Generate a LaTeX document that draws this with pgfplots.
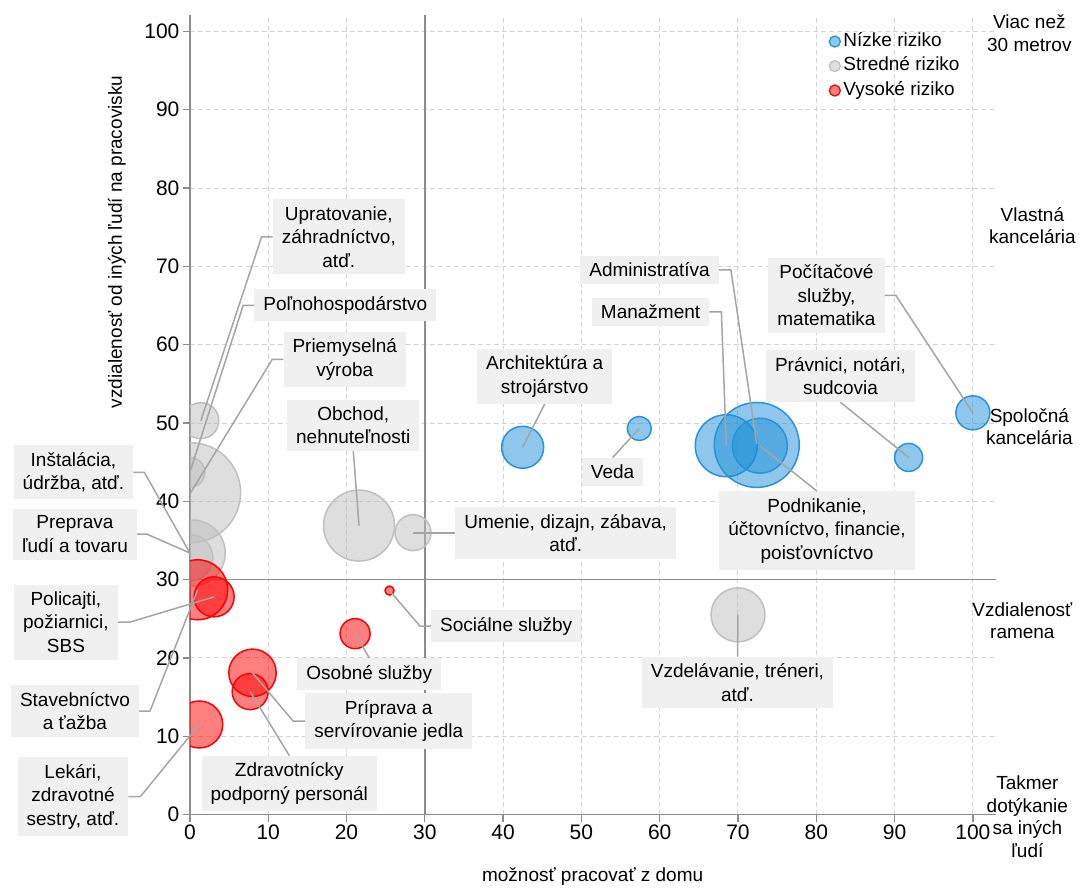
\documentclass[border=0pt]{standalone}
\usepackage{fontspec}
\setmainfont{Liberation Sans}
\usepackage{pgfplots}
\usepackage{pgfplotstable}
\pgfplotsset{compat=1.18}
\definecolor{bluebase}{RGB}{30,144,215}
\definecolor{bluedraw}{RGB}{38,147,218}
\definecolor{graybase}{RGB}{190,190,190}
\definecolor{graydraw}{RGB}{192,192,192}
\definecolor{redbase}{RGB}{255,0,0}
\definecolor{axisgray}{RGB}{140,140,140}
\definecolor{gridgray}{RGB}{212,212,212}
\definecolor{leadgray}{RGB}{165,165,165}
\definecolor{boxgray}{RGB}{240,240,240}

\pgfplotstableread{
x y r
42.5 46.9 21
57.4 49.3 12
68.5 47.1 31
72.4 47.2 42.5
72.8 47.1 27.5
91.8 45.6 14
100 51.3 17
}\lowrisk

\pgfplotstableread{
x y r
1.4 50.3 18
0.0 43.7 15
0.1 41.1 50
0.3 33.4 33
0.0 32.8 23
21.6 36.9 35.5
28.5 36.0 18
70.0 25.5 27
}\midrisk

\pgfplotstableread{
x y r
1.0 28.7 30
3.1 27.8 20
1.2 11.5 23.5
8.0 18.1 23.7
7.7 15.7 18
21.1 23.1 15
25.5 28.6 4.5
}\highrisk

\tikzset{
  lbl/.style={fill=boxgray, align=center, inner xsep=9pt, inner ysep=7pt,
    font=\fontsize{19}{23.5}\selectfont, text=black},
  leader/.style={draw=leadgray, line width=1.5pt},
  rl/.style={align=center, font=\fontsize{19}{22.5}\selectfont, text=black},
}

\begin{document}
\begin{tikzpicture}
\begin{axis}[
  scale only axis, width=807pt, height=800pt,
  xmin=0, xmax=103, ymin=0, ymax=102.1,
  axis lines=left, axis line style={-, draw=axisgray, line width=1.5pt},
  xtick={0,10,...,100}, ytick={0,10,...,100},
  tick align=outside, major tick length=7pt,
  tick style={draw=axisgray, line width=1.3pt},
  grid=major,
  major grid style={draw=gridgray, dash pattern=on 5pt off 3pt, line width=1pt},
  tick label style={font=\fontsize{21}{25}\selectfont, text=black},
  /pgf/number format/assume math mode=true,
  clip mode=individual, clip marker paths=true,
  legend cell align=left,
  legend style={at={(axis cs:81.56,100.3)}, anchor=north west, draw=none, fill=none,
    inner sep=0pt, row sep=0pt,
    nodes={inner sep=2.5pt, text height=14.5pt, text depth=5pt},
    font=\fontsize{19}{23}\selectfont},
]
% bounding box
\path (axis cs:-24.25,-9.06) rectangle (axis cs:113.46,104.02);

\draw[axisgray, line width=1.5pt] (axis cs:30,0) -- (axis cs:30,102.1);
\draw[axisgray, line width=1.5pt] (axis cs:0,30) -- (axis cs:103,30);

\addplot[scatter, only marks, mark=*, forget plot,
  scatter/use mapped color={draw=bluedraw, fill=bluebase, fill opacity=0.5, line width=1.5pt},
  visualization depends on={\thisrow{r}\as\rr},
  scatter/@pre marker code/.append style={/tikz/mark size=\rr}]
  table[x=x,y=y]{\lowrisk};
\addplot[scatter, only marks, mark=*, forget plot,
  scatter/use mapped color={draw=graydraw, fill=graybase, fill opacity=0.5, line width=1.5pt},
  visualization depends on={\thisrow{r}\as\rr},
  scatter/@pre marker code/.append style={/tikz/mark size=\rr}]
  table[x=x,y=y]{\midrisk};
\addplot[scatter, only marks, mark=*, forget plot,
  scatter/use mapped color={draw=redbase, fill=redbase, fill opacity=0.5, line width=1.5pt},
  visualization depends on={\thisrow{r}\as\rr},
  scatter/@pre marker code/.append style={/tikz/mark size=\rr}]
  table[x=x,y=y]{\highrisk};

\addlegendimage{legend image code/.code={\draw[draw=bluedraw, fill=bluebase, fill opacity=0.5, line width=1.3pt] (6pt,0pt) circle (5.5pt);}}
\addlegendentry{Nízke riziko}
\addlegendimage{legend image code/.code={\draw[draw=graydraw, fill=graybase, fill opacity=0.5, line width=1.3pt] (6pt,0pt) circle (5.5pt);}}
\addlegendentry{Stredné riziko}
\addlegendimage{legend image code/.code={\draw[draw=redbase, fill=redbase, fill opacity=0.5, line width=1.3pt] (6pt,0pt) circle (5.5pt);}}
\addlegendentry{Vysoké riziko}

% labels
\node[lbl] (upr) at (axis cs:19.02,73.77) {Upratovanie,\\záhradníctvo,\\atď.};
\draw[leader] (upr.west) -- ++(-11pt,0) -- (axis cs:1.4,50.3);
\node[lbl] (pol) at (axis cs:19.85,65.03) {Poľnohospodárstvo};
\draw[leader] (pol.west) -- ++(-11pt,0) -- (axis cs:0,43.7);
\node[lbl] (pri) at (axis cs:19.78,58.14) {Priemyselná\\výroba};
\draw[leader] (pri.west) -- ++(-11pt,0) -- (axis cs:0.1,41.1);
\node[lbl] (obc) at (axis cs:20.87,49.71) {Obchod,\\nehnuteľnosti};
\draw[leader] (obc.south) -- (axis cs:21.6,36.9);
\node[lbl] (arc) at (axis cs:45.31,55.97) {Architektúra a\\strojárstvo};
\draw[leader] (arc.south) -- (axis cs:42.5,46.9);
\node[lbl] (ume) at (axis cs:47.99,35.93) {Umenie, dizajn, zábava,\\atď.};
\draw[leader] (ume.west) -- (axis cs:28.5,35.93);
\node[lbl] (soc) at (axis cs:40.40,24.06) {Sociálne služby};
\draw[leader] (soc.west) -- ++(-11pt,0) -- (axis cs:25.5,28.6);
\node[lbl] (oso) at (axis cs:22.91,17.93) {Osobné služby};
\draw[leader] (oso.north) -- (axis cs:21.1,23.1);
\node[lbl] (prip) at (axis cs:25.40,11.93) {Príprava a\\servírovanie jedla};
\draw[leader] (prip.west) -- ++(-12pt,0) -- (axis cs:8.0,18.1);
\node[lbl] (zdr) at (axis cs:12.70,3.96) {Zdravotnícky\\podporný personál};
\draw[leader] (zdr.north) -- (axis cs:7.7,15.7);
\node[lbl] (ins) at (axis cs:-14.87,43.71) {Inštalácia,\\údržba, atď.};
\draw[leader] (ins.east) -- ++(11pt,0) -- (axis cs:0,33.4);
\node[lbl] (pre) at (axis cs:-14.68,35.80) {Preprava\\ľudí a tovaru};
\draw[leader] (pre.east) -- ++(10pt,0) -- (axis cs:0,33.4);
\node[lbl] (plc) at (axis cs:-15.83,24.57) {Policajti,\\požiarnici,\\SBS};
\draw[leader] (plc.east) -- ++(12pt,0) -- (axis cs:3.1,27.8);
\node[lbl] (sta) at (axis cs:-14.68,13.21) {Stavebníctvo\\a ťažba};
\draw[leader] (sta.east) -- ++(11pt,0) -- (axis cs:1.0,28.7);
\node[lbl] (lek) at (axis cs:-14.93,2.30) {Lekári,\\zdravotné\\sestry, atď.};
\draw[leader] (lek.east) -- ++(12pt,0) -- (axis cs:1.2,11.5);
\node[lbl] (ved) at (axis cs:53.99,43.78) {Veda};
\draw[leader] (ved.north) -- (axis cs:57.4,49.3);
\node[lbl] (adm) at (axis cs:58.71,69.56) {Administratíva};
\draw[leader] (adm.east) -- ++(12pt,0) -- (axis cs:72.4,47.3);
\node[lbl] (man) at (axis cs:58.84,64.20) {Manažment};
\draw[leader] (man.east) -- ++(12pt,0) -- (axis cs:68.5,47.2);
\node[lbl] (poc) at (axis cs:81.30,66.31) {Počítačové\\služby,\\matematika};
\draw[leader] (poc.east) -- ++(11pt,0) -- (axis cs:100,51.3);
\node[lbl] (pra) at (axis cs:83.09,55.97) {Právnici, notári,\\sudcovia};
\draw[leader] (pra.south) -- (axis cs:91.8,45.6);
\node[lbl] (pod) at (axis cs:80.09,36.25) {Podnikanie,\\účtovníctvo, financie,\\poisťovníctvo};
\draw[leader] (pod.north) -- (axis cs:72.8,47.1);
\node[lbl] (vzd) at (axis cs:69.94,16.85) {Vzdelávanie, tréneri,\\atď.};
\draw[leader] (vzd.north) -- (axis cs:70.0,25.5);

% right side labels
\node[rl] at (axis cs:107.21,99.81) {Viac než\\30 metrov};
\node[rl] at (axis cs:107.60,75.18) {Vlastná\\kancelária};
\node[rl] at (axis cs:107.21,49.52) {Spoločná\\kancelária};
\node[rl] at (axis cs:106.32,24.76) {Vzdialenosť\\ramena};
\node[rl] at (axis cs:106.96,-0.26) {Takmer\\dotýkanie\\sa iných\\ľudí};

% axis titles
\node[rotate=90, font=\fontsize{19}{23}\selectfont] at (axis cs:-9.32,73.13) {vzdialenosť od iných ľudí na pracovisku};
\node[font=\fontsize{19}{23}\selectfont] at (axis cs:51.44,-7.9) {možnosť pracovať z domu};
\end{axis}
\end{tikzpicture}
\end{document}
